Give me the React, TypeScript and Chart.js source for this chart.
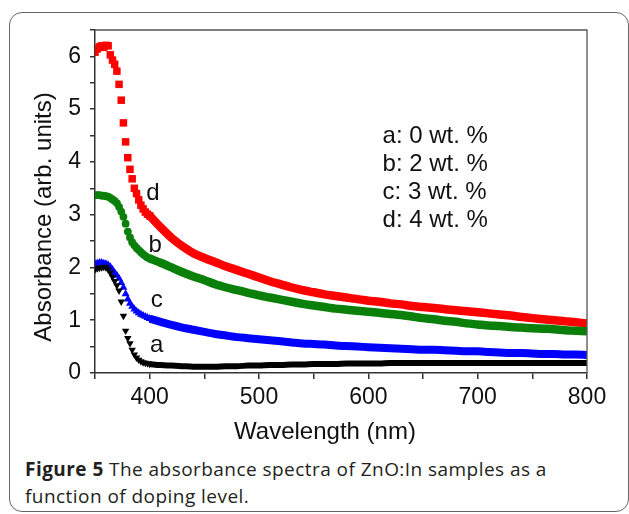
import React, { useEffect, useRef } from "react";
import { Chart, registerables } from "chart.js";

Chart.register(...registerables);

// Wavelength (nm)
const headWavelengths = [350, 352, 354, 356, 358, 360, 362, 364, 366, 368, 370, 372, 374, 376, 378, 380, 382, 384, 386, 388, 390, 392, 394, 396, 398, 400];
const tailWavelengths = [400, 410, 420, 430, 440, 450, 460, 470, 480, 490, 500, 510, 520, 530, 540, 550, 560, 570, 580, 590, 600, 610, 620, 630, 640, 650, 660, 670, 680, 690, 700, 710, 720, 730, 740, 750, 760, 770, 780, 790, 800];

// a: 0 wt. %
const aHead = [1.96, 1.98, 1.99, 2.0, 2.01, 2.0, 1.96, 1.9, 1.82, 1.74, 1.66, 1.56, 1.35, 1.08, 0.8, 0.66, 0.56, 0.44, 0.35, 0.29, 0.25, 0.22, 0.2, 0.19, 0.18, 0.17];
const aTail = [0.17, 0.15, 0.14, 0.13, 0.12, 0.12, 0.12, 0.13, 0.13, 0.14, 0.14, 0.15, 0.15, 0.16, 0.16, 0.17, 0.17, 0.17, 0.18, 0.18, 0.18, 0.18, 0.19, 0.19, 0.19, 0.19, 0.19, 0.19, 0.19, 0.19, 0.19, 0.19, 0.19, 0.19, 0.19, 0.19, 0.19, 0.19, 0.19, 0.19, 0.19];
// b: 2 wt. %
const bHead = [3.37, 3.37, 3.37, 3.36, 3.36, 3.35, 3.34, 3.32, 3.29, 3.26, 3.22, 3.15, 3.06, 2.96, 2.83, 2.68, 2.57, 2.48, 2.42, 2.37, 2.33, 2.29, 2.25, 2.22, 2.19, 2.17];
const bTail = [2.17, 2.09, 2.0, 1.91, 1.83, 1.76, 1.68, 1.62, 1.57, 1.52, 1.47, 1.43, 1.39, 1.35, 1.31, 1.28, 1.25, 1.22, 1.2, 1.18, 1.16, 1.14, 1.12, 1.1, 1.07, 1.04, 1.02, 0.99, 0.97, 0.94, 0.92, 0.9, 0.89, 0.87, 0.86, 0.85, 0.84, 0.83, 0.81, 0.8, 0.79];
// c: 3 wt. %
const cHead = [2.07, 2.08, 2.09, 2.09, 2.08, 2.07, 2.05, 2.01, 1.96, 1.9, 1.85, 1.79, 1.71, 1.62, 1.5, 1.4, 1.32, 1.26, 1.21, 1.17, 1.14, 1.11, 1.09, 1.07, 1.05, 1.03];
const cTail = [1.03, 0.97, 0.91, 0.86, 0.82, 0.78, 0.74, 0.71, 0.68, 0.66, 0.64, 0.62, 0.6, 0.58, 0.56, 0.55, 0.54, 0.52, 0.51, 0.5, 0.49, 0.48, 0.47, 0.46, 0.45, 0.44, 0.44, 0.43, 0.42, 0.41, 0.41, 0.4, 0.39, 0.38, 0.38, 0.37, 0.36, 0.36, 0.35, 0.35, 0.34];
// d: 4 wt. %
const dHead = [6.08, 6.14, 6.18, 6.2, 6.17, 6.21, 6.2, 6.03, 5.93, 5.85, 5.72, 5.47, 5.17, 4.74, 4.38, 4.08, 3.86, 3.68, 3.5, 3.4, 3.28, 3.18, 3.11, 3.05, 3.01, 2.98];
const dTail = [2.98, 2.76, 2.56, 2.4, 2.27, 2.18, 2.1, 2.02, 1.95, 1.88, 1.81, 1.74, 1.68, 1.62, 1.57, 1.53, 1.49, 1.46, 1.43, 1.4, 1.37, 1.35, 1.32, 1.3, 1.27, 1.25, 1.23, 1.21, 1.19, 1.17, 1.15, 1.13, 1.11, 1.09, 1.06, 1.04, 1.02, 1.0, 0.98, 0.96, 0.94];

const legendLines = ["a: 0 wt. %", "b: 2 wt. %", "c: 3 wt. %", "d: 4 wt. %"];
const legendAnchor = { x: 613, y: [4.49, 3.96, 3.42, 2.89] };
const curveLetters = ["a", "b", "c", "d"];
const letterAnchors = [
  { x: 406.5, y: 0.52 },
  { x: 405, y: 2.42 },
  { x: 406.5, y: 1.38 },
  { x: 403, y: 3.4 },
];

const FONT = "'Liberation Sans', Arial, sans-serif";

const toPts = (xs: number[], ys: number[]) => xs.map((x, i) => ({ x, y: ys[i] }));

const series = [
  { head: aHead, tail: aTail, color: "#000000", style: "triangle", rotation: 180, radius: 4.3, width: 6 },
  { head: bHead, tail: bTail, color: "#0a800a", style: "circle", rotation: 0, radius: 3.9, width: 8.5 },
  { head: cHead, tail: cTail, color: "#0000ff", style: "triangle", rotation: 0, radius: 4.6, width: 8 },
  { head: dHead, tail: dTail, color: "#ff0000", style: "rect", rotation: 0, radius: 5.3, width: 8.5 },
];

const annotationPlugin = {
  id: "annotations",
  afterDatasetsDraw(chart: any) {
    const { ctx, scales, chartArea } = chart;
    const x = scales.x;
    const y = scales.y;
    ctx.save();
    // frame top & right
    ctx.strokeStyle = "#555";
    ctx.lineWidth = 1.3;
    ctx.beginPath();
    ctx.moveTo(chartArea.left, chartArea.top);
    ctx.lineTo(chartArea.right, chartArea.top);
    ctx.lineTo(chartArea.right, chartArea.bottom);
    ctx.stroke();

    ctx.fillStyle = "#111";
    ctx.font = `24px ${FONT}`;
    ctx.textAlign = "left";
    ctx.textBaseline = "middle";
    legendLines.forEach((t, i) => {
      ctx.fillText(t, x.getPixelForValue(legendAnchor.x), y.getPixelForValue(legendAnchor.y[i]));
    });
    ctx.textAlign = "center";
    curveLetters.forEach((t, i) => {
      ctx.fillText(t, x.getPixelForValue(letterAnchors[i].x), y.getPixelForValue(letterAnchors[i].y));
    });

    // axis titles
    ctx.font = `24px ${FONT}`;
    ctx.fillText("Wavelength (nm)", 325, 432);
    ctx.translate(44, 217);
    ctx.rotate(-Math.PI / 2);
    ctx.fillText("Absorbance (arb. units)", 0, 0);
    ctx.restore();
  },
};

export default function App() {
  const ref = useRef<HTMLCanvasElement>(null);
  useEffect(() => {
    if (!ref.current) return;
    const datasets: any[] = [];
    series.forEach((s) => {
      datasets.push({
        data: toPts(headWavelengths, s.head),
        showLine: false,
        pointStyle: s.style,
        rotation: s.rotation,
        pointRadius: s.radius,
        pointBackgroundColor: s.color,
        pointBorderColor: s.color,
        pointBorderWidth: 0,
        clip: 0,
      });
      datasets.push({
        data: toPts(tailWavelengths, s.tail),
        showLine: true,
        borderColor: s.color,
        borderWidth: s.width,
        pointRadius: 0,
        cubicInterpolationMode: "monotone",
        fill: false,
        clip: 0,
      });
    });
    const chart = new Chart(ref.current, {
      type: "scatter",
      data: { datasets },
      options: {
        responsive: false,
        animation: false,
        layout: { padding: { top: 30, right: 42, left: 0, bottom: 0 } },
        plugins: { legend: { display: false }, tooltip: { enabled: false } },
        scales: {
          x: {
            type: "linear",
            min: 350,
            max: 800,
            afterFit: (s: any) => {
              s.height = 77;
            },
            ticks: {
              stepSize: 50,
              autoSkip: false,
              maxRotation: 0,
              padding: 5,
              color: "#111",
              font: { family: FONT, size: 23 },
              callback: (v: any) => (Number(v) % 100 === 0 ? String(v) : ""),
            },
            grid: { drawOnChartArea: false, drawTicks: true, tickLength: 6, color: "#333", lineWidth: 1.5 },
            border: { color: "#333", width: 1.5 },
          },
          y: {
            min: 0,
            max: 6.5,
            afterFit: (s: any) => {
              s.width = 95;
            },
            ticks: {
              stepSize: 0.5,
              autoSkip: false,
              padding: 9,
              color: "#111",
              font: { family: FONT, size: 23 },
              callback: (v: any) => (Number.isInteger(Number(v)) ? String(v) : ""),
            },
            grid: { drawOnChartArea: false, drawTicks: true, tickLength: 5, color: "#333", lineWidth: 1.5 },
            border: { color: "#333", width: 1.5 },
          },
        },
      },
      plugins: [annotationPlugin],
    });
    return () => chart.destroy();
  }, []);

  return (
    <div style={{ position: "fixed", left: 0, top: 0, width: 629, height: 514, background: "#fff", overflow: "hidden" }}>
      <div
        style={{
          position: "absolute",
          left: 9,
          top: 12,
          width: 618,
          height: 498,
          border: "1px solid #666",
          borderRadius: 13,
        }}
      />
      <canvas ref={ref} width={629} height={450} style={{ position: "absolute", left: 0, top: 0, width: 629, height: 450 }} />
      <div
        style={{
          position: "absolute",
          left: 25,
          top: 456,
          width: 600,
          fontFamily: "'Open Sans', sans-serif",
          fontSize: 19,
          letterSpacing: "0.45px",
          lineHeight: "26.5px",
          color: "#231f20",
        }}
      >
        <b>Figure 5</b> The absorbance spectra of ZnO:In samples as a
        <br />
        function of doping level.
      </div>
    </div>
  );
}
